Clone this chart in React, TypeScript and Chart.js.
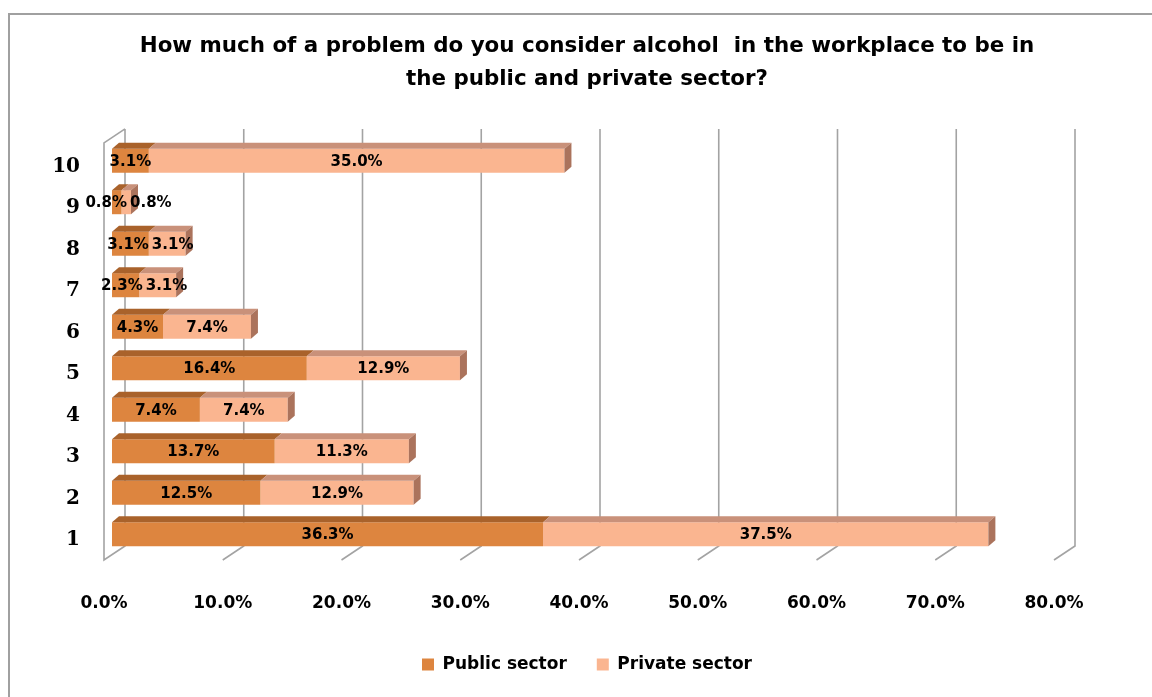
import React, { useEffect, useRef } from "react";
import { Chart, registerables } from "chart.js";

Chart.register(...registerables);

const categories = ["1", "2", "3", "4", "5", "6", "7", "8", "9", "10"];
const publicSector = [36.3, 12.5, 13.7, 7.4, 16.4, 4.3, 2.3, 3.1, 0.8, 3.1];
const privateSector = [37.5, 12.9, 11.3, 7.4, 12.9, 7.4, 3.1, 3.1, 0.8, 35.0];
const seriesNames = ["Public sector", "Private sector"];
const titleLines = [
  "How much of a problem do you consider alcohol  in the workplace to be in",
  "the public and private sector?",
];
const xMin = 0;
const xMax = 80;
const xStep = 10;

const FRONT = ["#DD853F", "#FAB590"];
const TOP = ["#A9622B", "#C9917A"];
const SIDE = "#AB735C";
const GRID = "#A3A3A3";

const depthPlugin = {
  id: "depth3d",
  beforeDraw(chart: any) {
    const ctx = chart.ctx;
    ctx.save();
    ctx.fillStyle = "#ffffff";
    ctx.fillRect(0, 0, chart.width, chart.height);
    ctx.strokeStyle = "#A0A0A0";
    ctx.lineWidth = 2;
    ctx.strokeRect(9, 14, chart.width + 20, chart.height + 20);
    ctx.restore();
  },
  beforeDatasetsDraw(chart: any) {
    const ctx = chart.ctx;
    const xs = chart.scales.x;
    const area = chart.chartArea;
    const backTop = area.top - 11;
    const backBottom = area.bottom - 9;
    const frontBottom = area.bottom + 5;
    ctx.save();
    ctx.strokeStyle = GRID;
    ctx.lineWidth = 1.6;
    for (let v = xMin; v <= xMax; v += xStep) {
      const p = xs.getPixelForValue(v);
      const xb = p + 13;
      const xf = p - 8;
      ctx.beginPath();
      ctx.moveTo(xb, backTop);
      ctx.lineTo(xb, backBottom);
      ctx.lineTo(xf, frontBottom);
      if (v === xMin) {
        ctx.lineTo(xf, backTop + 14);
        ctx.lineTo(xb, backTop);
      }
      ctx.stroke();
    }
    ctx.restore();
  },
  afterDatasetsDraw(chart: any) {
    const ctx = chart.ctx;
    const dx = 7;
    const dy = 6;
    ctx.save();
    const metas = [chart.getDatasetMeta(0), chart.getDatasetMeta(1)];
    metas.forEach((meta: any, di: number) => {
      meta.data.forEach((el: any) => {
        const { x, y, base, height } = el.getProps(["x", "y", "base", "height"], true);
        const top = y - height / 2;
        const bottom = y + height / 2;
        ctx.fillStyle = TOP[di];
        ctx.beginPath();
        ctx.moveTo(base, top);
        ctx.lineTo(base + dx, top - dy);
        ctx.lineTo(x + dx, top - dy);
        ctx.lineTo(x, top);
        ctx.closePath();
        ctx.fill();
        if (di === metas.length - 1) {
          ctx.fillStyle = SIDE;
          ctx.beginPath();
          ctx.moveTo(x, top);
          ctx.lineTo(x + dx, top - dy);
          ctx.lineTo(x + dx, bottom - dy);
          ctx.lineTo(x, bottom);
          ctx.closePath();
          ctx.fill();
        }
      });
    });

    // data labels
    ctx.font = "bold 15px 'DejaVu Sans'";
    ctx.fillStyle = "#000";
    ctx.textAlign = "center";
    ctx.textBaseline = "middle";
    const n = metas[0].data.length;
    for (let i = 0; i < n; i++) {
      const a = metas[0].data[i].getProps(["x", "y", "base"], true);
      const b = metas[1].data[i].getProps(["x", "y", "base"], true);
      const t1 = publicSector[i].toFixed(1) + "%";
      const t2 = privateSector[i].toFixed(1) + "%";
      let c1 = (a.x + a.base) / 2;
      let c2 = (b.x + b.base) / 2;
      const w1 = ctx.measureText(t1).width;
      const w2 = ctx.measureText(t2).width;
      const overlap = c1 + w1 / 2 + 3 - (c2 - w2 / 2);
      if (overlap > 0) {
        c1 -= overlap * 0.3;
        c2 += overlap * 0.7;
      }
      ctx.fillText(t1, c1, a.y + 1);
      ctx.fillText(t2, c2, b.y + 1);
    }
    ctx.restore();
  },
};

export default function App() {
  const ref = useRef<HTMLCanvasElement | null>(null);
  useEffect(() => {
    if (!ref.current) return;
    const chart = new Chart(ref.current, {
      type: "bar",
      data: {
        labels: categories,
        datasets: [
          {
            label: seriesNames[0],
            data: publicSector,
            backgroundColor: FRONT[0],
            borderWidth: 0,
            barPercentage: 0.58,
            categoryPercentage: 1,
          },
          {
            label: seriesNames[1],
            data: privateSector,
            backgroundColor: FRONT[1],
            borderWidth: 0,
            barPercentage: 0.58,
            categoryPercentage: 1,
          },
        ],
      },
      options: {
        indexAxis: "y",
        animation: false,
        responsive: true,
        maintainAspectRatio: false,
        layout: { padding: { left: 0, right: 90, top: 0, bottom: 14 } },
        scales: {
          x: {
            stacked: true,
            min: xMin,
            max: xMax,
            grid: { display: false, drawTicks: false },
            border: { display: false },
            ticks: {
              stepSize: xStep,
              padding: 38,
              labelOffset: -8,
              color: "#000",
              font: { family: "'DejaVu Sans'", size: 17, weight: "bold" },
              callback: (v: any) => Number(v).toFixed(1) + "%",
            },
            afterFit: (s: any) => {
              s.height = 71;
            },
          },
          y: {
            stacked: true,
            reverse: true,
            grid: { display: false, drawTicks: false },
            border: { display: false },
            ticks: {
              padding: 32,
              labelOffset: 6,
              color: "#000",
              font: { family: "'DejaVu Serif'", size: 20, weight: "bold" },
            },
            afterFit: (s: any) => {
              s.width = 112;
            },
          },
        },
        plugins: {
          title: {
            display: true,
            fullSize: false,
            text: titleLines,
            color: "#000",
            font: { family: "'DejaVu Sans'", size: 21.4, weight: "bold", lineHeight: 1.54 },
            padding: { top: 30, bottom: 44 },
          },
          legend: {
            position: "bottom",
            fullSize: false,
            labels: {
              boxWidth: 12,
              boxHeight: 12,
              padding: 30,
              color: "#000",
              font: { family: "'DejaVu Sans'", size: 17, weight: "bold" },
            },
          },
          tooltip: { enabled: false },
        },
      },
      plugins: [depthPlugin],
    });
    return () => chart.destroy();
  }, []);
  return (
    <div style={{ position: "fixed", left: 0, top: 0, width: 1152, height: 697, background: "#fff" }}>
      <canvas ref={ref} />
    </div>
  );
}
